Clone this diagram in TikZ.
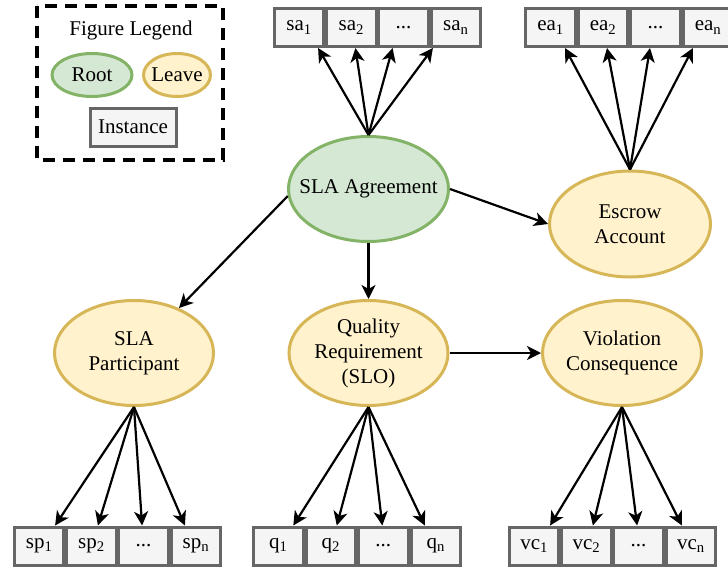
\documentclass[tikz,border=0pt]{standalone}
\usepackage{fontspec}
\setmainfont{Liberation Serif}
\usetikzlibrary{shapes.geometric,arrows.meta}

\definecolor{rootfill}{HTML}{D5E8D4}
\definecolor{rootline}{HTML}{82B366}
\definecolor{leaffill}{HTML}{FFF2CC}
\definecolor{leafline}{HTML}{D6B656}
\definecolor{instfill}{HTML}{F5F5F5}
\definecolor{instline}{HTML}{666666}

\tikzset{
  base/.style={font=\fontsize{21}{25}\selectfont, align=center, inner sep=0pt, text=black},
  rootnode/.style={base, ellipse, draw=rootline, fill=rootfill, line width=3pt},
  leafnode/.style={base, ellipse, draw=leafline, fill=leaffill, line width=3pt},
  inst/.style={base, rectangle, draw=instline, fill=instfill, line width=3pt,
               minimum height=38pt, minimum width=49.5pt},
  link/.style={line width=2.2pt, -{Stealth[length=14pt,width=14pt,inset=4pt]}},
  legendframe/.style={draw=black, line width=4.5pt, dash pattern=on 12pt off 8pt},
}

\begin{document}
\begin{tikzpicture}[x=1pt,y=-1pt]
\useasboundingbox (0,0) rectangle (728,568);

% legend
\draw[legendframe] (37,6) rectangle (223,160);
\node[base] (legendtitle) at (131,30) {Figure Legend};
\node[rootnode, inner xsep=-6pt, minimum width=80pt, minimum height=43pt] (lroot) at (92,75) {Root};
\node[leafnode, inner xsep=-6pt, minimum width=67pt, minimum height=43pt] (lleaf) at (177,75) {Leave};
\node[inst, minimum width=86pt] (linst) at (133,127) {Instance};

% main concepts (negative x padding keeps the ellipses at their set size)
\node[rootnode, inner xsep=-16pt, minimum width=160pt, minimum height=105pt] (agree) at (368.5,189) {SLA Agreement};
\node[leafnode, inner xsep=-6pt, minimum width=161pt, minimum height=106pt] (escrow) at (630,224) {Escrow\\Account};
\node[leafnode, inner xsep=-6pt, minimum width=159pt, minimum height=105pt] (part) at (134,353) {SLA\\Participant};
\node[leafnode, inner xsep=-6pt, minimum width=159pt, minimum height=105pt] (qual) at (368.5,353) {Quality\\Requirement\\(SLO)};
\node[leafnode, inner xsep=-6pt, minimum width=159pt, minimum height=105pt] (viol) at (622,353) {Violation\\Consequence};

% instances
\node[inst] (sa1) at (299.1,27.5) {sa\textsubscript{1}};
\node[inst] (sa2) at (351.4,27.5) {sa\textsubscript{2}};
\node[inst] (sa3) at (403.6,27.5) {...};
\node[inst] (san) at (455.9,27.5) {sa\textsubscript{n}};

\node[inst] (ea1) at (550.5,27.5) {ea\textsubscript{1}};
\node[inst] (ea2) at (603,27.5) {ea\textsubscript{2}};
\node[inst] (ea3) at (655.5,27.5) {...};
\node[inst] (ean) at (708,27.5) {ea\textsubscript{n}};

\node[inst] (sp1) at (39.1,546) {sp\textsubscript{1}};
\node[inst] (sp2) at (91.4,546) {sp\textsubscript{2}};
\node[inst] (sp3) at (143.6,546) {...};
\node[inst] (spn) at (195.9,546) {sp\textsubscript{n}};

\node[inst] (q1) at (278.3,546) {q\textsubscript{1}};
\node[inst] (q2) at (330.8,546) {q\textsubscript{2}};
\node[inst] (q3) at (383.3,546) {...};
\node[inst] (qn) at (435.8,546) {q\textsubscript{n}};

\node[inst] (vc1) at (534.1,546) {vc\textsubscript{1}};
\node[inst] (vc2) at (586.4,546) {vc\textsubscript{2}};
\node[inst] (vc3) at (638.6,546) {...};
\node[inst] (vcn) at (690.9,546) {vc\textsubscript{n}};

% relations between concepts
\draw[link] (agree.east) -- (escrow.west);
\draw[link] (agree.185) -- (part.45);
\draw[link] (agree.south) -- (qual.north);
\draw[link] (qual.east) -- (viol.west);

% fans to instances
\draw[link] (agree.north) -- ([xshift=19pt]sa1.south);
\draw[link] (agree.north) -- ([xshift=4pt]sa2.south);
\draw[link] (agree.north) -- ([xshift=-11pt]sa3.south);
\draw[link] (agree.north) -- ([xshift=-23pt]san.south);

\draw[link] (escrow.north) -- ([xshift=14.5pt]ea1.south);
\draw[link] (escrow.north) -- ([xshift=4pt]ea2.south);
\draw[link] (escrow.north) -- ([xshift=-5.5pt]ea3.south);
\draw[link] (escrow.north) -- ([xshift=-15pt]ean.south);

\draw[link] (part.south) -- ([xshift=16pt]sp1.north);
\draw[link] (part.south) -- ([xshift=6.5pt]sp2.north);
\draw[link] (part.south) -- ([xshift=-1.5pt]sp3.north);
\draw[link] (part.south) -- ([xshift=-11pt]spn.north);

\draw[link] (qual.south) -- ([xshift=15pt]q1.north);
\draw[link] (qual.south) -- ([xshift=6pt]q2.north);
\draw[link] (qual.south) -- ([xshift=-1pt]q3.north);
\draw[link] (qual.south) -- ([xshift=-11pt]qn.north);

\draw[link] (viol.south) -- ([xshift=16pt]vc1.north);
\draw[link] (viol.south) -- ([xshift=6.5pt]vc2.north);
\draw[link] (viol.south) -- ([xshift=-1.5pt]vc3.north);
\draw[link] (viol.south) -- ([xshift=-9pt]vcn.north);
\end{tikzpicture}
\end{document}
